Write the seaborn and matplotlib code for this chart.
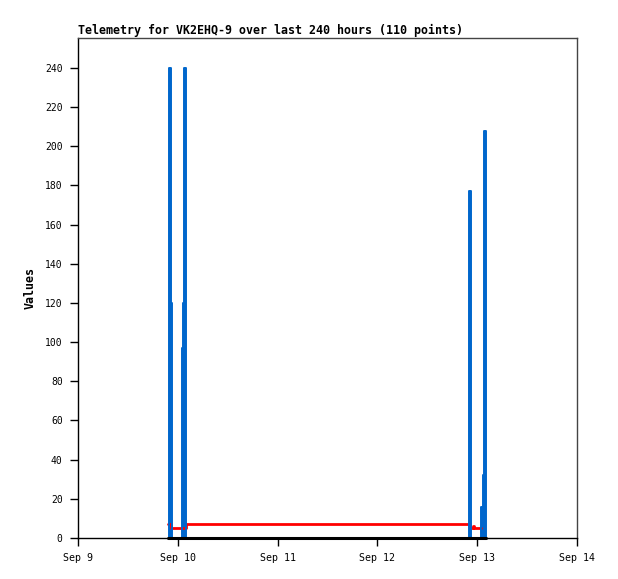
import numpy as np
import pandas as pd

import matplotlib
matplotlib.use("Agg")
import matplotlib.pyplot as plt
import seaborn as sns

sns.set_theme(style="white", rc={"figure.dpi": 100, "text.color": "black",
                                 "axes.labelcolor": "black"})
plt.rcParams["font.family"] = ["DejaVu Sans Mono", "DejaVu Sans"]

start = pd.Timestamp("2023-09-09 00:00")

# hours after Sep 9 00:00, values (step series)
blue_hours = [21.8, 21.9, 22.25, 22.6, 25.0, 25.3, 25.5, 26.0, 93.9, 94.0, 94.4, 96.9, 97.3, 97.75, 98.2]
blue_values = [0, 240, 120, 0, 97, 120, 240, 0, 0, 177, 0, 16, 32, 208, 0]

red_hours = [21.6, 22.3, 26.0, 94.3, 94.9, 95.3, 97.0]
red_values = [7, 5, 7, 5, 6, 5, 5]

black_hours = [21.6, 98.2]
black_values = [0, 0]

x_ticks = ["2023-09-09", "2023-09-10", "2023-09-11", "2023-09-12", "2023-09-13", "2023-09-14"]
x_tick_labels = ["Sep 9", "Sep 10", "Sep 11", "Sep 12", "Sep 13", "Sep 14"]
y_ticks = list(range(0, 241, 20))


def frame(hours, values):
    return pd.DataFrame({"time": start + pd.to_timedelta(hours, unit="h"), "value": values})


fig = plt.figure(figsize=(6.18, 5.79), dpi=100)
ax = fig.add_axes([78 / 618, 1 - 538 / 579, 499 / 618, 500 / 579])

blue = frame(blue_hours, blue_values)

sns.lineplot(data=frame(red_hours, red_values), x="time", y="value", color="#ff0000",
             linewidth=2.0, drawstyle="steps-post", ax=ax)
ax.fill_between(blue["time"], blue["value"], step="post", color="#0066cc", linewidth=0)
sns.lineplot(data=blue, x="time", y="value", color="#0066cc",
             linewidth=1.4, drawstyle="steps-post", ax=ax)
sns.lineplot(data=frame(black_hours, black_values), x="time", y="value", color="#000000",
             linewidth=2.2, ax=ax, clip_on=False)

ax.set_xlim(pd.Timestamp(x_ticks[0]), pd.Timestamp(x_ticks[-1]))
ax.set_ylim(0, 255.3)
ax.set_xticks([pd.Timestamp(t) for t in x_ticks])
ax.set_xticklabels(x_tick_labels, fontsize=7.2)
ax.set_yticks(y_ticks)
ax.set_yticklabels([str(v) for v in y_ticks], fontsize=7)

for side in ["top", "right"]:
    ax.spines[side].set_color("#444444")
    ax.spines[side].set_linewidth(1.0)
for side in ["left", "bottom"]:
    ax.spines[side].set_color("#000000")
    ax.spines[side].set_linewidth(1.0)

ax.tick_params(axis="both", which="major", direction="out", length=6, width=1,
               color="#000000", labelcolor="#000000", bottom=True, left=True, pad=5)
ax.grid(False)

ax.set_xlabel("")
ax.set_ylabel("Values", fontsize=8.4, fontweight="bold", labelpad=6, color="black")
ax.set_title("Telemetry for VK2EHQ-9 over last 240 hours (110 points)",
             loc="left", fontsize=8.4, fontweight="bold", pad=3, color="black")

fig.savefig("out.png", dpi=100, facecolor="white")
